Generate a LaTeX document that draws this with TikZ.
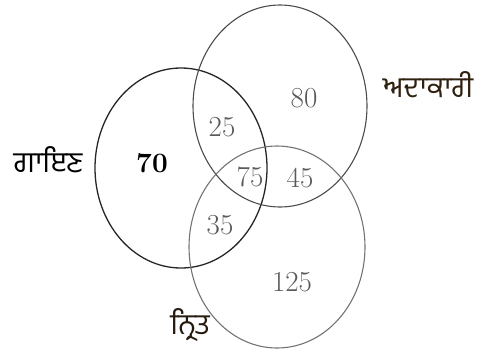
\documentclass[tikz,border=0pt]{standalone}
\usepackage{fontspec}
\usetikzlibrary{shapes.geometric}
\newfontfamily\gurfont[Script=Gurmukhi]{Hind Jalandhar}
\begin{document}
\begin{tikzpicture}[x=1pt,y=-1pt,
  setA/.style={draw=black!85,line width=1.3pt},
  setB/.style={draw=black!70,line width=1.1pt},
  setC/.style={draw=black!55,line width=1.1pt},
  num/.style={font=\fontsize{29}{32}\selectfont,text=black!65},
  lab/.style={font=\gurfont\fontsize{29}{32}\selectfont}]
\useasboundingbox (0,0) rectangle (487,360);
\node[setA,ellipse,minimum width=172pt,minimum height=200pt,inner sep=0pt] (gayan) at (181,168) {};
\node[setB,ellipse,minimum width=174pt,minimum height=202pt,inner sep=0pt] (adakari) at (280,106) {};
\node[setC,ellipse,minimum width=176pt,minimum height=202pt,inner sep=0pt] (nrit) at (277,247) {};
\node[num,text=black,font=\bfseries\fontsize{28}{31}\selectfont] (n70) at (152,163) {70};
\node[num] (n25) at (222,127) {25};
\node[num] (n80) at (304,98) {80};
\node[num] (n75) at (250,177) {75};
\node[num] (n45) at (300,178) {45};
\node[num] (n35) at (220,225) {35};
\node[num] (n125) at (292,282) {125};
\node[lab,text=black] (lgayan) at (48,160) {ਗਾਇਣ};
\node[lab,text=black!75!brown] (ladakari) at (428,85) {ਅਦਾਕਾਰੀ};
\node[lab,text=black!80!brown] (lnrit) at (190,325) {ਨ੍ਰਿਤ};
\end{tikzpicture}
\end{document}
